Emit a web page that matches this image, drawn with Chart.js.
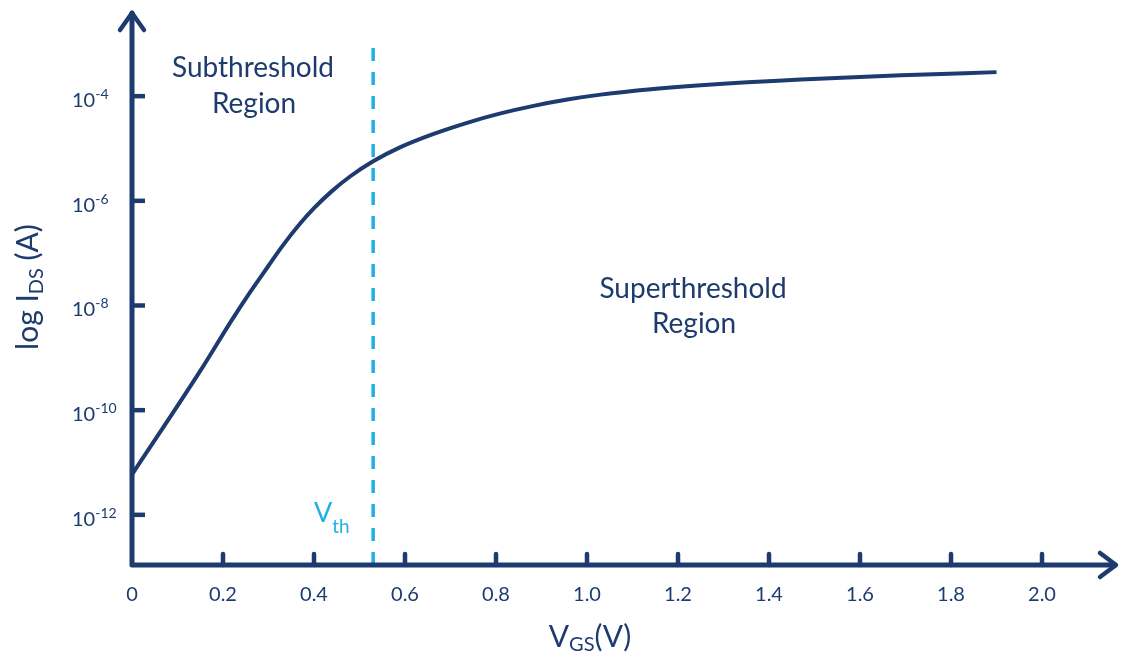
<!DOCTYPE html>
<html>
<head>
<meta charset="utf-8">
<script src="https://cdn.jsdelivr.net/npm/chart.js@4.4.1/dist/chart.umd.min.js"></script>
<style>
  html, body { margin: 0; padding: 0; background: #fff; }
  #wrap { width: 1122px; height: 655px; position: relative; }
</style>
</head>
<body>
<div id="wrap"><canvas id="ivChart"></canvas></div>
<script>
// I-V transfer curve
const vgs = [0, 0.15, 0.22, 0.26, 0.30, 0.33, 0.37, 0.40, 0.44, 0.48, 0.53, 0.59, 0.66, 0.74, 0.81, 0.88, 0.96,
             1.03, 1.14, 1.25, 1.47, 1.69, 1.9];
const ids = [5.89e-12, 5.62e-10, 5.37e-9, 1.82e-8, 5.75e-8, 1.35e-7, 3.72e-7, 7.24e-7, 1.55e-6, 2.95e-6, 5.69e-6,
             1.06e-5, 1.86e-5, 3.16e-5, 4.68e-5, 6.46e-5, 8.71e-5, 1.07e-4, 1.36e-4, 1.62e-4, 2.09e-4, 2.51e-4, 2.88e-4];

// threshold voltage marker
const vth = 0.53;
const vthTop = 1.12e-3;

// axis ticks
const xTicks = [0, 0.2, 0.4, 0.6, 0.8, 1.0, 1.2, 1.4, 1.6, 1.8, 2.0];
const yTickExps = [-12, -10, -8, -6, -4];
const xMax = 2.167;
const yMin = 1.1e-13;
const yMax = 4.24e-3;

const navy = '#1d3b6e';
const cyan = '#1db1e6';
const fontFamily = 'Lato, "Open Sans", sans-serif';

function line(ctx, x1, y1, x2, y2) {
    ctx.beginPath();
    ctx.moveTo(x1, y1);
    ctx.lineTo(x2, y2);
    ctx.stroke();
}

// draws a run of text pieces [text, size, dy] starting at x
function drawRuns(ctx, runs, x, y) {
    let cx = x;
    runs.forEach(r => {
        ctx.font = r[1] + 'px ' + fontFamily;
        ctx.fillText(r[0], cx, y + r[2]);
        cx += ctx.measureText(r[0]).width;
    });
    return cx - x;
}

function runsWidth(ctx, runs) {
    let w = 0;
    runs.forEach(r => {
        ctx.font = r[1] + 'px ' + fontFamily;
        w += ctx.measureText(r[0]).width;
    });
    return w;
}

// arrowed axes, inner tick marks and all the labels
const axesPlugin = {
    id: 'axesPlugin',
    afterDatasetsDraw(chart) {
        const { ctx, chartArea: area, scales: { x, y } } = chart;
        const ox = x.getPixelForValue(0);
        const oy = area.bottom;
        ctx.save();
        ctx.strokeStyle = navy;
        ctx.fillStyle = navy;
        ctx.lineJoin = 'round';

        // axis lines
        ctx.lineWidth = 5;
        ctx.lineCap = 'round';
        ctx.beginPath();
        ctx.moveTo(ox, area.top + 2);
        ctx.lineTo(ox, oy);
        ctx.lineTo(area.right - 3, oy);
        ctx.stroke();

        // arrow heads
        ctx.lineWidth = 4.5;
        ctx.beginPath();
        ctx.moveTo(ox - 12, area.top + 19);
        ctx.lineTo(ox, area.top + 2);
        ctx.lineTo(ox + 12, area.top + 19);
        ctx.moveTo(area.right - 18, oy - 12);
        ctx.lineTo(area.right - 2, oy);
        ctx.lineTo(area.right - 18, oy + 12);
        ctx.stroke();

        // y ticks and labels
        ctx.lineCap = 'butt';
        ctx.lineWidth = 4.5;
        ctx.textAlign = 'left';
        ctx.textBaseline = 'alphabetic';
        yTickExps.forEach(e => {
            const py = y.getPixelForValue(Math.pow(10, e));
            line(ctx, ox, py, ox + 13, py);
            drawRuns(ctx, [['10', 20, 0], ['-' + Math.abs(e), 14, -8]], ox - 60, py + 11);
        });

        // x ticks and labels
        ctx.lineCap = 'round';
        ctx.textAlign = 'center';
        ctx.font = '20px ' + fontFamily;
        xTicks.forEach(v => {
            const px = x.getPixelForValue(v);
            if (v !== 0) line(ctx, px, oy, px, oy - 11);
            ctx.fillText(v === 0 ? '0' : v.toFixed(1), px, oy + 36);
        });

        // axis titles
        ctx.textAlign = 'left';
        const xTitle = [['V', 30, 0], ['GS', 20, 4], ['(V)', 30, 0]];
        drawRuns(ctx, xTitle, 590 - runsWidth(ctx, xTitle) / 2, oy + 82);

        const yTitle = [['log I', 30, 0], ['DS', 20, 5], [' (A)', 30, 0]];
        ctx.save();
        ctx.translate(38, 287);
        ctx.rotate(-Math.PI / 2);
        drawRuns(ctx, yTitle, -runsWidth(ctx, yTitle) / 2, 0);
        ctx.restore();

        // region notes
        ctx.textAlign = 'center';
        ctx.font = '28px ' + fontFamily;
        ctx.fillText('Subthreshold', 253, 77);
        ctx.fillText('Region', 254, 113);
        ctx.fillText('Superthreshold', 693, 298);
        ctx.fillText('Region', 694, 333);

        // Vth label
        ctx.fillStyle = cyan;
        ctx.textAlign = 'left';
        drawRuns(ctx, [['V', 27, 0], ['th', 19, 11]], 314, 522);

        ctx.restore();
    }
};

new Chart(document.getElementById('ivChart'), {
    type: 'line',
    data: {
        datasets: [{
            label: 'IDS',
            data: vgs.map((v, i) => ({ x: v, y: ids[i] })),
            borderColor: navy,
            borderWidth: 4,
            pointRadius: 0,
            fill: false,
            cubicInterpolationMode: 'monotone'
        }, {
            label: 'Vth',
            data: [{ x: vth, y: yMin }, { x: vth, y: vthTop }],
            borderColor: cyan,
            borderWidth: 3.5,
            borderDash: [13, 11],
            pointRadius: 0,
            fill: false
        }]
    },
    options: {
        responsive: true,
        maintainAspectRatio: false,
        animation: false,
        layout: { padding: { left: 132, top: 11, right: 4, bottom: 90 } },
        plugins: {
            legend: { display: false },
            tooltip: { enabled: false }
        },
        scales: {
            x: { type: 'linear', min: 0, max: xMax, display: false },
            y: { type: 'logarithmic', min: yMin, max: yMax, display: false }
        }
    },
    plugins: [axesPlugin]
});
</script>
</body>
</html>
